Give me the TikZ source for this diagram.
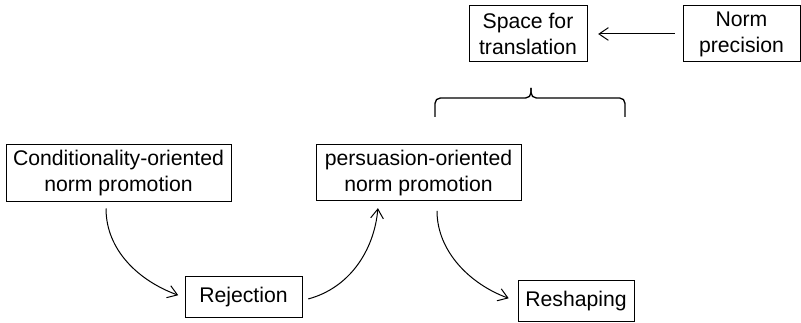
\documentclass[tikz,border=0pt]{standalone}
\usepackage{fontspec}
\setmainfont{Liberation Sans}
\usetikzlibrary{arrows.meta,calc}

\tikzset{
  box/.style={draw, line width=0.75pt, inner sep=0pt, align=center, font=\fontsize{15.9}{19.5}\selectfont},
  arr/.style={line width=0.75pt, -{Straight Barb[length=7pt,width=9.5pt]}},
}

\begin{document}
\begin{tikzpicture}[x=0.75pt,y=0.75pt,yscale=-1,xscale=1]
\useasboundingbox (0,0) rectangle (801,323);

\node [box, minimum width=88.5pt, minimum height=42pt] (trans) at (528,34) {Space for\\translation};
\node [box, minimum width=87.75pt, minimum height=42pt] (prec) at (741.5,34) {Norm\\precision};
\node [box, minimum width=168.75pt, minimum height=42.75pt] (cond) at (118.5,173.5) {Conditionality-oriented\\norm promotion};
\node [box, minimum width=153.75pt, minimum height=42pt] (pers) at (418.5,173) {persuasion-oriented\\norm promotion};
\node [box, minimum width=87.75pt, minimum height=30.75pt] (rej) at (243.5,297.5) {Rejection};
\node [box, minimum width=87pt, minimum height=30.75pt] (resh) at (576,301.5) {Reshaping};

\draw [arr, shorten >=8pt, shorten <=6pt] (prec.west) -- (trans.east);
\draw [arr, shorten <=4.5pt, shorten >=5pt] ($(cond.south)+(-12.5,0)$) to [out=90,in=-160] (rej.west);
\draw [arr, shorten <=4.5pt, shorten >=5pt] ($(rej.east)+(0,3)$) to [out=-15,in=95] ($(pers.south)+(-40,0)$);
\draw [arr, shorten <=7pt, shorten >=7pt] ($(pers.south)+(18.5,0)$) to [out=90,in=-160] (resh.west);

% brace under the box
\draw [line width=1pt, rounded corners=4pt] (435,117) -- (435,98) -- (531,98) -- (531,88);
\draw [line width=1pt, rounded corners=4pt] (625,117) -- (625,98) -- (531,98) -- (531,88);

\end{tikzpicture}
\end{document}
